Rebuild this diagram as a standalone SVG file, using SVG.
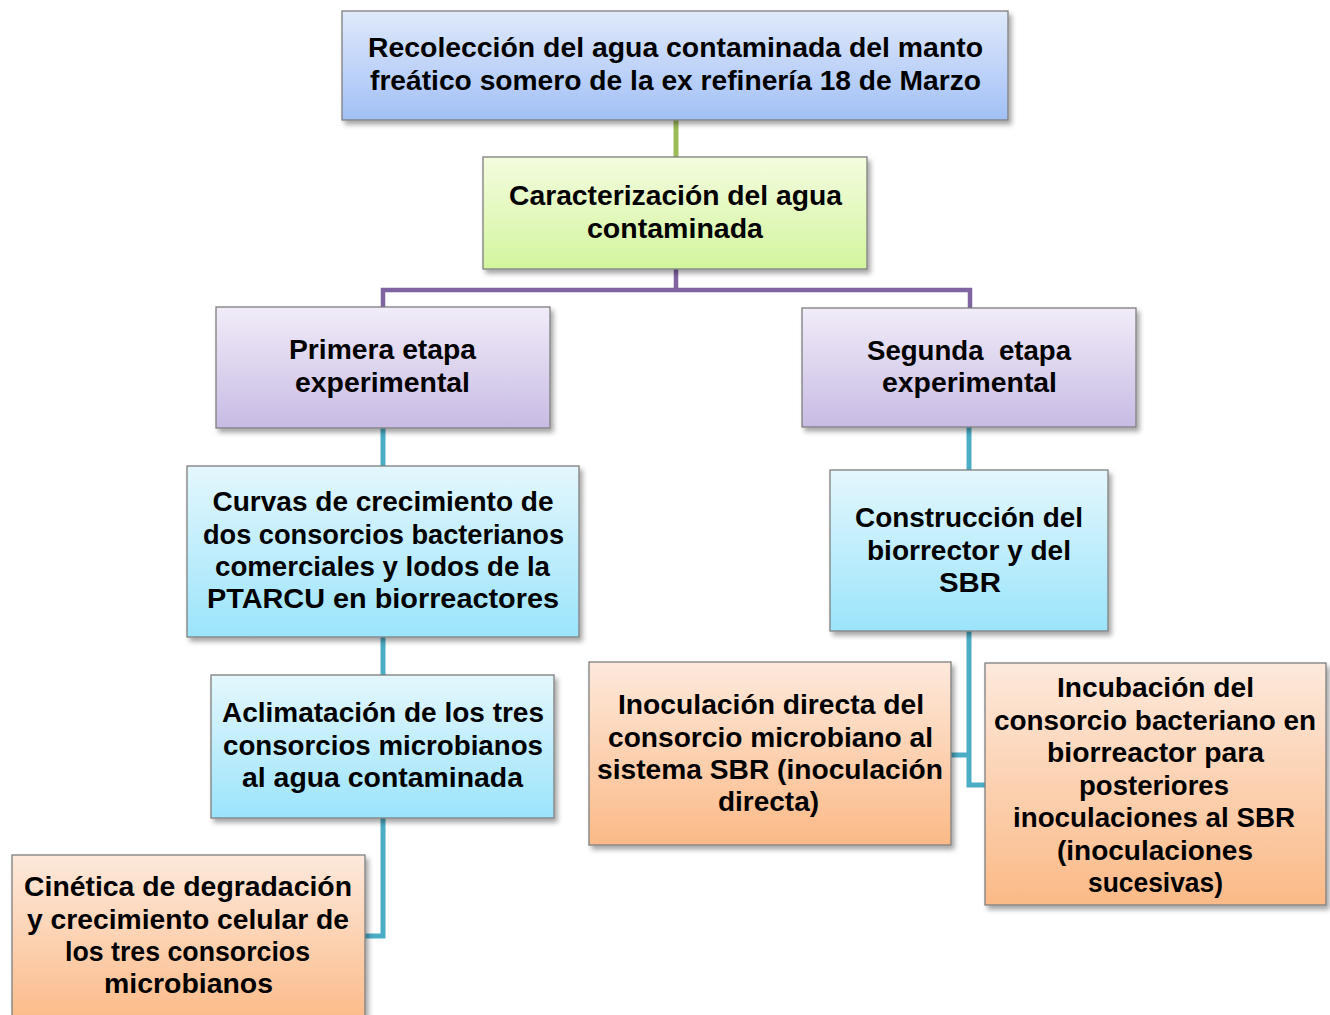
<svg xmlns="http://www.w3.org/2000/svg" width="1330" height="1015" viewBox="0 0 1330 1015">
<defs>
<linearGradient id="gBlue" x1="0" y1="0" x2="0" y2="1"><stop offset="0" stop-color="#dfe9fb"/><stop offset="1" stop-color="#a2c0f6"/></linearGradient>
<linearGradient id="gGreen" x1="0" y1="0" x2="0" y2="1"><stop offset="0" stop-color="#f4fcdf"/><stop offset="1" stop-color="#d3f59e"/></linearGradient>
<linearGradient id="gPurple" x1="0" y1="0" x2="0" y2="1"><stop offset="0" stop-color="#f1ecf8"/><stop offset="1" stop-color="#c8bbe4"/></linearGradient>
<linearGradient id="gCyan" x1="0" y1="0" x2="0" y2="1"><stop offset="0" stop-color="#e4f7fd"/><stop offset="1" stop-color="#9be4fb"/></linearGradient>
<linearGradient id="gOrange" x1="0" y1="0" x2="0" y2="1"><stop offset="0" stop-color="#fde9dc"/><stop offset="1" stop-color="#fbba87"/></linearGradient>
<filter id="sh" x="-10%" y="-10%" width="125%" height="130%"><feDropShadow dx="3" dy="4" stdDeviation="2.5" flood-color="#000" flood-opacity="0.35"/></filter>
</defs>
<style>
.box{stroke:#7f7f7f;stroke-width:1.3;filter:url(#sh)}
.t{font-family:"Liberation Sans",Arial,sans-serif;font-weight:bold;font-size:27px;fill:#000;text-anchor:middle}
.c{fill:none;stroke-width:5;stroke-linejoin:miter}
.cg{stroke:#9bbb59}
.cp{stroke:#8064a2;stroke-width:4.5}
.ct{stroke:#4bacc6}
</style>
<g id="connectors">
<path class="c cg" d="M676 120 V157"/>
<path class="c cp" d="M676 269 V290 M383 307 V290 H970 V309"/>
<path class="c ct" d="M383 428 V466"/>
<path class="c ct" d="M383 637 V675"/>
<path class="c ct" d="M383 818 V936 H365"/>
<path class="c ct" d="M969 426 V470"/>
<path class="c ct" d="M969 631 V785 H985 M969 755 H951"/>
</g>
<g id="n1">
<rect class="box" x="342" y="11" width="666" height="109" fill="url(#gBlue)"/>
<text class="t" x="675.5" y="57" textLength="615" lengthAdjust="spacingAndGlyphs">Recolección del agua contaminada del manto</text>
<text class="t" x="675.5" y="90" textLength="611" lengthAdjust="spacingAndGlyphs">freático somero de la ex refinería 18 de Marzo</text>
</g>
<g id="n2">
<rect class="box" x="483" y="157" width="384" height="112" fill="url(#gGreen)"/>
<text class="t" x="675.5" y="205" textLength="333" lengthAdjust="spacingAndGlyphs">Caracterización del agua</text>
<text class="t" x="675" y="238" textLength="176" lengthAdjust="spacingAndGlyphs">contaminada</text>
</g>
<g id="n3">
<rect class="box" x="216" y="307" width="334" height="121" fill="url(#gPurple)"/>
<text class="t" x="382.5" y="359" textLength="187" lengthAdjust="spacingAndGlyphs">Primera etapa</text>
<text class="t" x="382.5" y="392" textLength="175" lengthAdjust="spacingAndGlyphs">experimental</text>
</g>
<g id="n4">
<rect class="box" x="802" y="308" width="334" height="119" fill="url(#gPurple)"/>
<text class="t" x="969" y="360" textLength="204" lengthAdjust="spacingAndGlyphs" xml:space="preserve">Segunda  etapa</text>
<text class="t" x="969.5" y="392" textLength="175" lengthAdjust="spacingAndGlyphs">experimental</text>
</g>
<g id="n5">
<rect class="box" x="187" y="466" width="392" height="171" fill="url(#gCyan)"/>
<text class="t" x="383" y="511" textLength="341" lengthAdjust="spacingAndGlyphs">Curvas de crecimiento de</text>
<text class="t" x="383.5" y="543.5" textLength="361" lengthAdjust="spacingAndGlyphs">dos consorcios bacterianos</text>
<text class="t" x="382.5" y="576" textLength="335" lengthAdjust="spacingAndGlyphs">comerciales y lodos de la</text>
<text class="t" x="383" y="608" textLength="352" lengthAdjust="spacingAndGlyphs">PTARCU en biorreactores</text>
</g>
<g id="n6">
<rect class="box" x="211" y="675" width="343" height="143" fill="url(#gCyan)"/>
<text class="t" x="383" y="722" textLength="322" lengthAdjust="spacingAndGlyphs">Aclimatación de los tres</text>
<text class="t" x="383" y="755" textLength="320" lengthAdjust="spacingAndGlyphs">consorcios microbianos</text>
<text class="t" x="382.5" y="787" textLength="281" lengthAdjust="spacingAndGlyphs">al agua contaminada</text>
</g>
<g id="n7">
<rect class="box" x="12" y="855" width="353" height="170" fill="url(#gOrange)"/>
<text class="t" x="188" y="896" textLength="328" lengthAdjust="spacingAndGlyphs">Cinética de degradación</text>
<text class="t" x="188" y="928.5" textLength="322" lengthAdjust="spacingAndGlyphs">y crecimiento celular de</text>
<text class="t" x="187.5" y="961" textLength="245" lengthAdjust="spacingAndGlyphs">los tres consorcios</text>
<text class="t" x="188.5" y="993" textLength="169" lengthAdjust="spacingAndGlyphs">microbianos</text>
</g>
<g id="n8">
<rect class="box" x="830" y="470" width="278" height="161" fill="url(#gCyan)"/>
<text class="t" x="969" y="527" textLength="228" lengthAdjust="spacingAndGlyphs">Construcción del</text>
<text class="t" x="969" y="559.5" textLength="204" lengthAdjust="spacingAndGlyphs">biorrector y del</text>
<text class="t" x="970" y="592" textLength="62" lengthAdjust="spacingAndGlyphs">SBR</text>
</g>
<g id="n9">
<rect class="box" x="589" y="662" width="362" height="183" fill="url(#gOrange)"/>
<text class="t" x="771" y="714" textLength="306" lengthAdjust="spacingAndGlyphs">Inoculación directa del</text>
<text class="t" x="770.5" y="746.5" textLength="325" lengthAdjust="spacingAndGlyphs">consorcio microbiano al</text>
<text class="t" x="770" y="779" textLength="346" lengthAdjust="spacingAndGlyphs">sistema SBR (inoculación</text>
<text class="t" x="768.5" y="811" textLength="101" lengthAdjust="spacingAndGlyphs">directa)</text>
</g>
<g id="n10">
<rect class="box" x="985" y="663" width="341" height="242" fill="url(#gOrange)"/>
<text class="t" x="1155.5" y="697" textLength="197" lengthAdjust="spacingAndGlyphs">Incubación del</text>
<text class="t" x="1155" y="729.5" textLength="322" lengthAdjust="spacingAndGlyphs">consorcio bacteriano en</text>
<text class="t" x="1155.5" y="762" textLength="217" lengthAdjust="spacingAndGlyphs">biorreactor para</text>
<text class="t" x="1154" y="794.5" textLength="150" lengthAdjust="spacingAndGlyphs">posteriores</text>
<text class="t" x="1154" y="827" textLength="282" lengthAdjust="spacingAndGlyphs">inoculaciones al SBR</text>
<text class="t" x="1155" y="859.5" textLength="196" lengthAdjust="spacingAndGlyphs">(inoculaciones</text>
<text class="t" x="1155.5" y="892" textLength="135" lengthAdjust="spacingAndGlyphs">sucesivas)</text>
</g>
</svg>
